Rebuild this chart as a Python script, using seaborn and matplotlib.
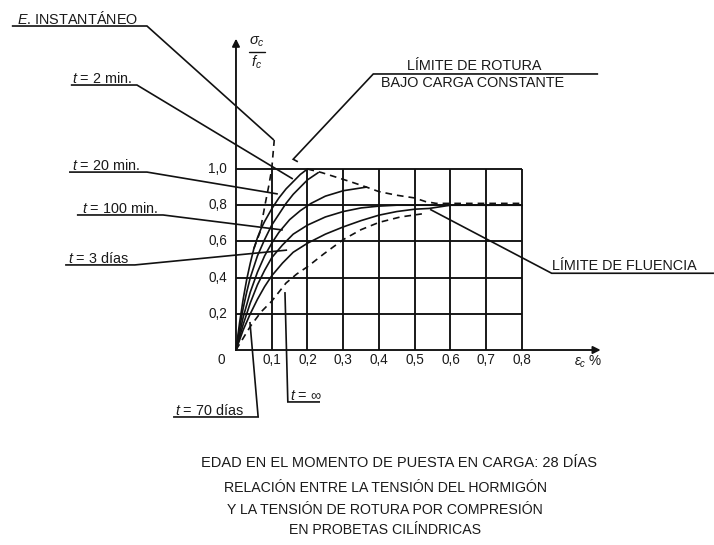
import matplotlib
matplotlib.use("Agg")
import matplotlib.pyplot as plt
import seaborn as sns

sns.set_style("white")
plt.rcParams["font.family"] = ["Liberation Sans", "DejaVu Sans"]
plt.rcParams["mathtext.fontset"] = "custom"
plt.rcParams["mathtext.rm"] = "Liberation Sans"
plt.rcParams["mathtext.it"] = "Liberation Sans:italic"
plt.rcParams["mathtext.bf"] = "Liberation Sans:bold"

# --- stress/strain curves (strain in %, stress ratio sigma_c / f_c) ---
t2min_x = [0, .01, .02, .03, .04, .05, .06, .07, .08, .10, .12, .14, .16, .18, .20]
t2min_y = [0, .15, .28, .39, .48, .56, .62, .67, .71, .78, .84, .89, .93, .97, 1.00]

t20min_x = [0, .01, .02, .03, .04, .06, .08, .10, .12, .14, .16, .18, .20, .23]
t20min_y = [0, .12, .23, .32, .40, .52, .61, .69, .75, .81, .86, .90, .94, .98]

t100min_x = [0, .02, .04, .06, .08, .10, .12, .15, .18, .21, .25, .30, .365]
t100min_y = [0, .18, .32, .43, .52, .59, .65, .72, .77, .81, .85, .88, .90]

t3d_x = [0, .02, .04, .06, .08, .10, .13, .16, .20, .25, .30, .35, .40, .45, .80]
t3d_y = [0, .14, .26, .36, .44, .51, .58, .64, .69, .735, .765, .785, .795, .80, .80]

t70d_x = [0, .02, .04, .06, .08, .10, .13, .16, .20, .25, .30, .35, .40, .45, .50, .54, .60, .80]
t70d_y = [0, .11, .20, .28, .35, .41, .48, .54, .59, .64, .68, .715, .745, .765, .778, .782, .80, .80]

tinf_x = [0, .04, .07, .10, .12, .14, .17, .20, .245, .30, .35, .40, .46, .52]
tinf_y = [0, .13, .21, .27, .32, .37, .42, .46, .53, .61, .665, .705, .735, .752]

inst_x = [.05, .067, .081, .092, .100, .107]
inst_y = [.56, .65, .80, .91, 1.00, 1.16]

rotura_x = [.20, .24, .28, .32, .365, .40, .45, .50, .53, .56, .65, .80]
rotura_y = [1.00, .98, .955, .93, .90, .875, .855, .84, .82, .81, .81, .81]

grid_x = [.1, .2, .3, .4, .5, .6, .7, .8]
grid_y = [.2, .4, .6, .8, 1.0]
x_tick_labels = ["0,1", "0,2", "0,3", "0,4", "0,5", "0,6", "0,7", "0,8"]
y_tick_labels = ["0,2", "0,4", "0,6", "0,8", "1,0"]

INK = "#111111"
TXT = "#1a1a1a"
FS = 10.4
FS_TICK = 9.8

fig = plt.figure(figsize=(7.14, 5.45), dpi=100)
ax = fig.add_axes([0, 0, 1, 1])
ax.set_xlim(-0.6601, 1.3371)
ax.set_ylim(-1.0773, 1.9337)
ax.axis("off")

# grid
ax.vlines(grid_x, 0, 1.0, color=INK, lw=1.35)
ax.hlines(grid_y, 0, 0.8, color=INK, lw=1.35)

# axes with arrow heads
ax.annotate("", xy=(0, 1.72), xytext=(0, 0),
            arrowprops=dict(arrowstyle="-|>", lw=1.35, color=INK,
                            mutation_scale=11, shrinkA=0, shrinkB=0))
ax.annotate("", xy=(1.02, 0), xytext=(0, 0),
            arrowprops=dict(arrowstyle="-|>", lw=1.35, color=INK,
                            mutation_scale=11, shrinkA=0, shrinkB=0))

# curves
solid = [(t2min_x, t2min_y), (t20min_x, t20min_y), (t100min_x, t100min_y),
         (t3d_x, t3d_y), (t70d_x, t70d_y)]
for cx, cy in solid:
    sns.lineplot(x=cx, y=cy, ax=ax, color=INK, lw=1.2, sort=False, estimator=None)

dashed = [(tinf_x, tinf_y), (inst_x, inst_y), (rotura_x, rotura_y)]
for cx, cy in dashed:
    sns.lineplot(x=cx, y=cy, ax=ax, color=INK, lw=1.2, sort=False,
                 estimator=None, linestyle=(0, (4, 3)))

# tick labels
for gx, lab in zip(grid_x, x_tick_labels):
    ax.text(gx, -0.057, lab, ha="center", va="center", fontsize=FS_TICK, color=TXT)
for gy, lab in zip(grid_y, y_tick_labels):
    ax.text(-0.025, gy, lab, ha="right", va="center", fontsize=FS_TICK, color=TXT)
ax.text(-0.04, -0.057, "0", ha="center", va="center", fontsize=FS_TICK, color=TXT)

# axis titles: sigma_c over f_c
ax.text(0.0585, 1.704, r"$\sigma_c$", ha="center", va="center", fontsize=10.5, color=TXT)
ax.plot([0.036, 0.081], [1.648, 1.648], color=INK, lw=1.0, clip_on=False)
ax.text(0.0585, 1.589, r"$f_c$", ha="center", va="center", fontsize=10.5, color=TXT)
ax.text(0.945, -0.066, r"$\varepsilon_c$ %", ha="left", va="center",
        fontsize=FS_TICK, color=TXT)

LW_LEAD = 1.2


def leader(pts):
    xs = [p[0] for p in pts]
    ys = [p[1] for p in pts]
    ax.plot(xs, ys, color=INK, lw=LW_LEAD, clip_on=False,
            solid_capstyle="butt", solid_joinstyle="miter")


# labels with underline and leader
labels = [
    (r"$E$. INSTANTÁNEO", -0.613, 1.802, [(-0.627, 1.790), (-0.249, 1.790), (0.106, 1.160)]),
    (r"$t$ = 2 min.", -0.459, 1.475, [(-0.462, 1.464), (-0.277, 1.464), (0.159, 0.945)]),
    (r"$t$ = 20 min.", -0.459, 0.995, [(-0.467, 0.983), (-0.249, 0.983), (0.117, 0.862)]),
    (r"$t$ = 100 min.", -0.431, 0.757, [(-0.445, 0.746), (-0.204, 0.746), (0.131, 0.663)]),
    (r"$t$ = 3 días", -0.470, 0.482, [(-0.478, 0.470), (-0.283, 0.470), (0.143, 0.552)]),
    (r"$t$ = 70 días", -0.171, -0.357, [(-0.176, -0.370), (0.062, -0.370), (0.039, 0.155)]),
    (r"$t$ = $\infty$", 0.151, -0.274, [(0.235, -0.287), (0.145, -0.287), (0.137, 0.320)]),
]
for txt, tx, ty, pts in labels:
    ax.text(tx, ty, txt, ha="left", va="baseline", fontsize=FS, color=TXT)
    leader(pts)

# failure limit under sustained load
leader([(1.013, 1.525), (0.384, 1.525), (0.160, 1.054), (0.173, 1.040)])
ax.text(0.477, 1.547, "LÍMITE DE ROTURA", ha="left", va="baseline",
        fontsize=FS, color=TXT)
ax.text(0.405, 1.455, "BAJO CARGA CONSTANTE", ha="left", va="baseline",
        fontsize=FS, color=TXT)

# creep limit
leader([(0.543, 0.777), (0.883, 0.424), (1.337, 0.424)])
ax.text(0.883, 0.442, "LÍMITE DE FLUENCIA", ha="left", va="baseline",
        fontsize=FS, color=TXT)

# captions
ax.text(0.456, -0.624, "EDAD EN EL MOMENTO DE PUESTA EN CARGA: 28 DÍAS",
        ha="center", va="center", fontsize=10.5, color=TXT)
caption = ["RELACIÓN ENTRE LA TENSIÓN DEL HORMIGÓN",
           "Y LA TENSIÓN DE ROTURA POR COMPRESIÓN",
           "EN PROBETAS CILÍNDRICAS"]
for cy, line in zip([-0.762, -0.884, -0.994], caption):
    ax.text(0.417, cy, line, ha="center", va="center", fontsize=10.2, color=TXT)

fig.savefig("out.png", dpi=100)
